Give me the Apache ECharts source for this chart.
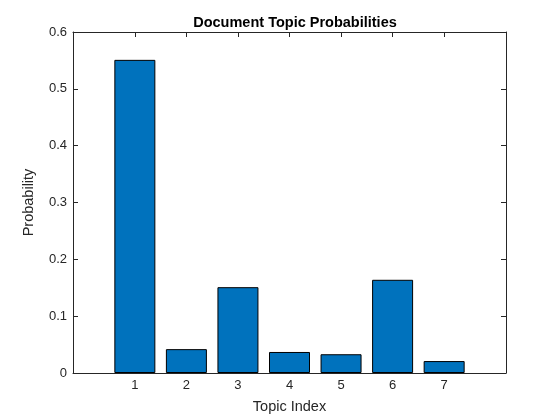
<!DOCTYPE html>
<html>
<head>
<meta charset="utf-8">
<script src="https://cdn.jsdelivr.net/npm/echarts@6/dist/echarts.min.js"></script>
<style>
  html, body { margin: 0; padding: 0; background: #fff; }
  #chart { width: 560px; height: 420px; }
</style>
</head>
<body>
<div id="chart"></div>
<script>
const topics = [1, 2, 3, 4, 5, 6, 7]
const probabilities = [0.551, 0.042, 0.151, 0.037, 0.033, 0.164, 0.021]

const axisColor = '#262626'
const font = 'Liberation Sans, Arial, sans-serif'

const chart = echarts.init(document.getElementById('chart'))

const xBase = {
  type: 'value',
  show: true,
  min: -0.2,
  max: 8.2,
  splitLine: { show: false },
  axisLine: { show: true, onZero: false, lineStyle: { color: axisColor, width: 1 } },
  axisTick: { show: true, inside: true, length: 5, customValues: topics, lineStyle: { color: axisColor } },
}
const yBase = {
  type: 'value',
  show: true,
  min: 0,
  max: 0.6,
  interval: 0.1,
  splitLine: { show: false },
  axisLine: { show: true, onZero: false, lineStyle: { color: axisColor, width: 1 } },
  axisTick: { show: true, inside: true, length: 5, lineStyle: { color: axisColor } },
}

chart.setOption({
  animation: false,
  textStyle: { fontFamily: font },
  title: {
    text: 'Document Topic Probabilities',
    left: 290,
    textAlign: 'center',
    top: 10,
    textStyle: { fontSize: 14.5, fontWeight: 'bold', color: '#000', fontFamily: font },
  },
  grid: { left: 73, right: 54, top: 32, bottom: 47 },
  xAxis: [
    {
      ...xBase,
      position: 'bottom',
      name: 'Topic Index',
      nameLocation: 'middle',
      nameGap: 26,
      nameTextStyle: { fontSize: 14.5, color: axisColor, fontFamily: font },
      axisLabel: { customValues: topics, fontSize: 13, color: axisColor, margin: 6, fontFamily: font },
    },
    { ...xBase, position: 'top', axisLabel: { show: false } },
  ],
  yAxis: [
    {
      ...yBase,
      position: 'left',
      name: 'Probability',
      nameLocation: 'middle',
      nameGap: 37,
      nameTextStyle: { fontSize: 14.5, color: axisColor, fontFamily: font },
      axisLabel: {
        fontSize: 13, color: axisColor, margin: 6, fontFamily: font,
        formatter: v => String(Math.round(v * 10) / 10),
      },
    },
    { ...yBase, position: 'right', axisLabel: { show: false } },
  ],
  series: [
    {
      type: 'bar',
      xAxisIndex: 0,
      yAxisIndex: 0,
      barWidth: 41,
      data: topics.map((t, i) => [t, probabilities[i]]),
      itemStyle: { color: '#0072BD', borderColor: '#000', borderWidth: 1 },
    },
    // empty series so the box axes on top/right get drawn
    { type: 'line', xAxisIndex: 1, yAxisIndex: 1, data: [], silent: true },
  ],
})
</script>
</body>
</html>
